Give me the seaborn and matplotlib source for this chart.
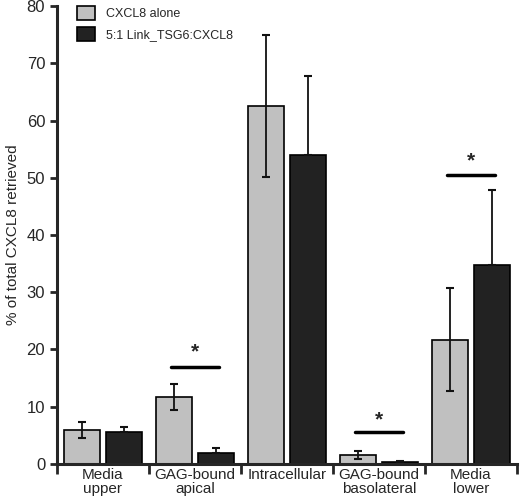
import numpy as np
import pandas as pd
import matplotlib
matplotlib.use("Agg")
import matplotlib.pyplot as plt
import seaborn as sns
from matplotlib.patches import Patch

# values
categories = ["Media\nupper", "GAG-bound\napical", "Intracellular", "GAG-bound\nbasolateral", "Media\nlower"]
groups = ["CXCL8 alone", "5:1 Link_TSG6:CXCL8"]
alone = [5.9, 11.7, 62.6, 1.6, 21.7]
alone_err = [1.4, 2.3, 12.4, 0.7, 9.0]
link = [5.5, 1.9, 53.9, 0.3, 34.7]
link_err = [0.9, 0.85, 13.8, 0.15, 13.2]

# significance brackets: category index, line height, star height
sig_cat = [1, 3, 4]
sig_line = [16.9, 5.5, 50.4]
sig_star = [19.5, 7.7, 52.9]

df = pd.DataFrame({
    "cat": categories * 2,
    "group": [groups[0]] * 5 + [groups[1]] * 5,
    "val": alone + link,
})

sns.set_style("ticks")
plt.rcParams["font.family"] = ["Liberation Sans", "DejaVu Sans"]

fig = plt.figure(figsize=(5.2, 5.04), dpi=100)
ax = fig.add_axes([0.1096, 0.0794, 0.8844, 0.9086])

cols = ["#c0c0c0", "#222222"]
sns.barplot(data=df, x="cat", y="val", hue="group", palette=cols, order=categories,
            hue_order=groups, errorbar=None, width=0.9, gap=0.13,
            edgecolor="black", linewidth=1.2, ax=ax, legend=False)

for k, (cont, errs) in enumerate(zip(ax.containers, [alone_err, link_err])):
    for bar, e in zip(cont, errs):
        xc = bar.get_x() + bar.get_width() / 2
        # dark bars only show the upper half of the error bar
        yerr = e if k == 0 else [[0], [e]]
        ax.errorbar(xc, bar.get_height(), yerr=yerr, color="#111111", lw=1.3,
                    capsize=3, capthick=1.5)

for c, yl, ys in zip(sig_cat, sig_line, sig_star):
    ax.plot([c - 0.26, c + 0.26], [yl, yl], color="black", lw=2.5)
    ax.text(c, ys, "*", ha="center", va="center", fontsize=15, fontweight="bold")

ax.set_xlim(-0.5, 4.5)
ax.set_ylim(0, 80)
ax.set_yticks(np.arange(0, 81, 10))
ax.set_xticks(range(5))
ax.set_xticklabels(categories, fontsize=11, linespacing=1.0)
ax.set_xticks(np.arange(-0.5, 4.6, 1), minor=True)
ax.tick_params(axis="x", which="major", length=0, pad=3)
ax.tick_params(axis="x", which="minor", length=7, width=2, direction="out")
ax.tick_params(axis="y", length=5, width=2, labelsize=12)
ax.set_xlabel("")
ax.set_ylabel("% of total CXCL8 retrieved", fontsize=11, labelpad=5)
for s in ["left", "bottom"]:
    ax.spines[s].set_linewidth(2.2)
sns.despine(ax=ax)

handles = [Patch(facecolor=cols[i], edgecolor="black", lw=1.2, label=groups[i]) for i in range(2)]
ax.legend(handles=handles, loc="upper left", frameon=False, fontsize=9,
          bbox_to_anchor=(0.02, 1.024), handlelength=1.4, handleheight=1.3,
          labelspacing=0.55, handletextpad=0.85)

fig.savefig("out.png", dpi=100)
